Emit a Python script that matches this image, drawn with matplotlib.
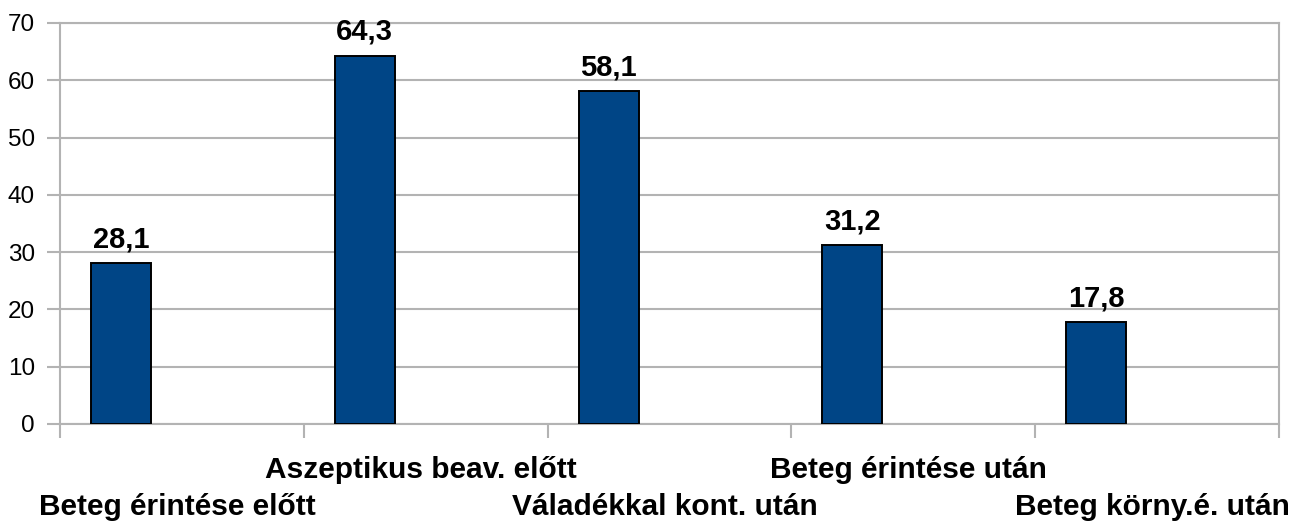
"""
Bar chart: hand hygiene moments (percent), staggered category labels.
"""

import matplotlib
matplotlib.use("Agg")
import matplotlib.pyplot as plt
from matplotlib.transforms import blended_transform_factory

# --- Data ---
categories = [
    "Beteg érintése előtt",
    "Aszeptikus beav. előtt",
    "Váladékkal kont. után",
    "Beteg érintése után",
    "Beteg körny.é. után",
]
values = [28.1, 64.3, 58.1, 31.2, 17.8]
value_labels = ["28,1", "64,3", "58,1", "31,2", "17,8"]
y_ticks = [0, 10, 20, 30, 40, 50, 60, 70]

# --- Style ---
BAR_COLOR = "#004586"
GRID_COLOR = "#b3b3b3"
BAR_SHIFT = -0.25  # bars sit in the left half of each category slot
plt.rcParams['font.family'] = ['Liberation Sans', 'DejaVu Sans']

fig = plt.figure(figsize=(12.95, 5.22), dpi=100)
ax = fig.add_axes([60 / 1295, 98 / 522, 1219 / 1295, 401 / 522])

x = list(range(len(categories)))
bar_x = [xi + BAR_SHIFT for xi in x]
ax.bar(bar_x, values, width=0.246, color=BAR_COLOR, edgecolor="black", linewidth=1.4, zorder=3)

# value labels above bars
for xi, v, lab in zip(bar_x, values, value_labels):
    ax.annotate(lab, (xi, v), xytext=(0, 11.5), textcoords="offset points",
                ha="center", va="baseline", fontsize=21, fontweight="bold")

ax.set_xlim(-0.5, len(categories) - 0.5)
ax.set_ylim(0, 70)
ax.set_yticks(y_ticks)
ax.set_yticklabels([str(t) for t in y_ticks], fontsize=17.5)
ax.yaxis.grid(True, color=GRID_COLOR, linewidth=1.5, zorder=0)
ax.tick_params(axis="y", length=9.4, width=1.5, color=GRID_COLOR, pad=8.6)

# x ticks at category boundaries, labels placed manually (staggered)
ax.set_xticks([i - 0.5 for i in range(len(categories) + 1)])
ax.set_xticklabels([])
ax.tick_params(axis="x", length=10, width=1.5, color=GRID_COLOR)

for side in ["left", "right", "top", "bottom"]:
    ax.spines[side].set_color(GRID_COLOR)
    ax.spines[side].set_linewidth(1.5)

trans = blended_transform_factory(ax.transData, fig.transFigure)
for i, name in enumerate(categories):
    # odd categories sit on the upper row, even ones on the lower row
    y_px = 478 if i % 2 == 1 else 515
    ax.text(i - 0.02, 1 - y_px / 522, name, transform=trans, ha="center", va="baseline",
            fontsize=21.5, fontweight="bold")

plt.savefig("out.png", dpi=100)
